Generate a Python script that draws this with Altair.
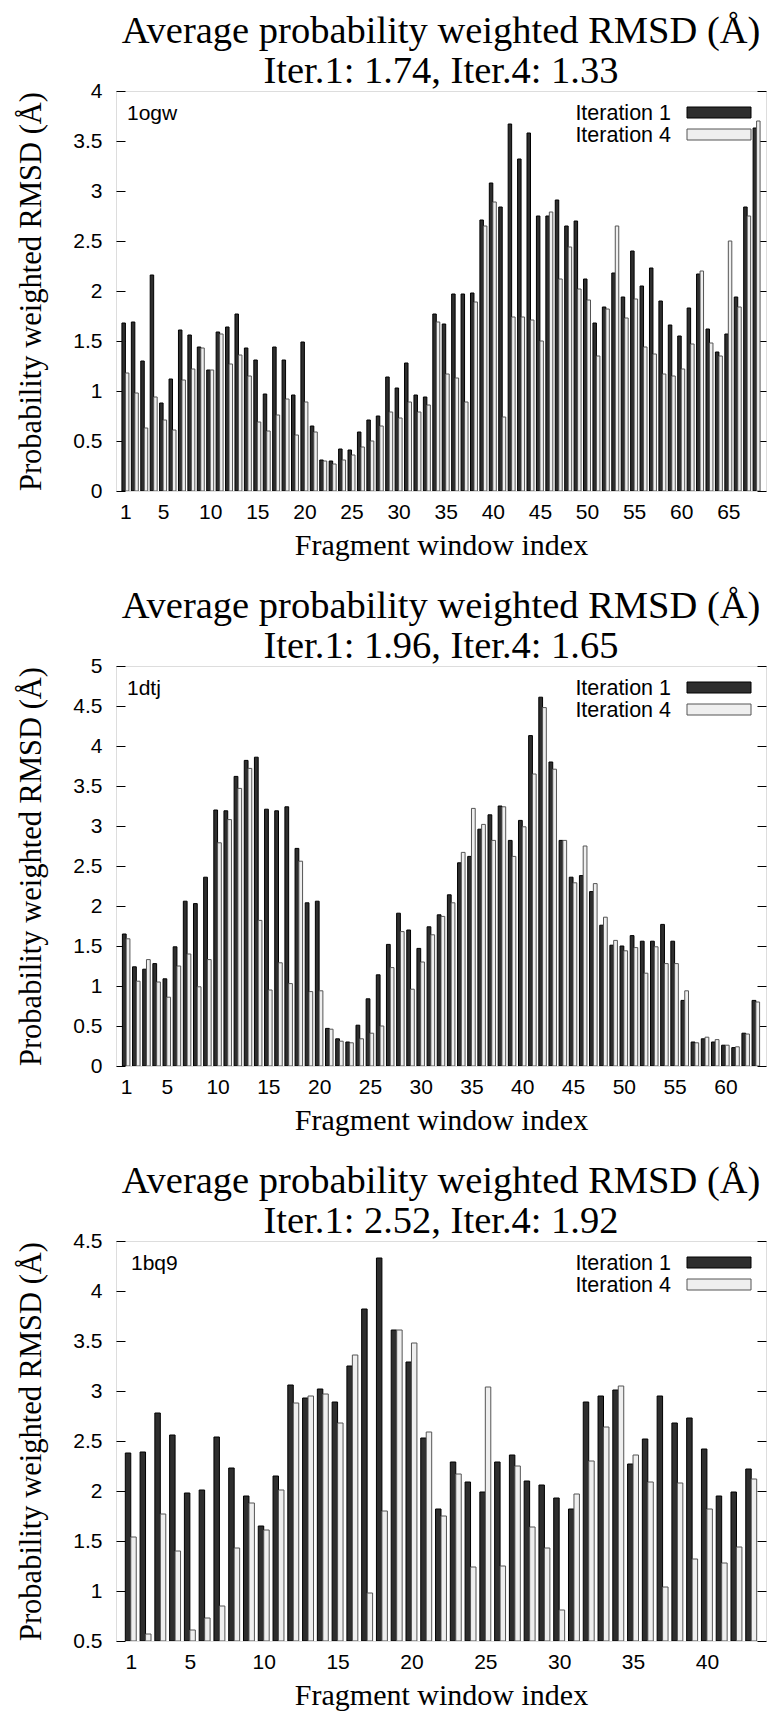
import altair as alt
import pandas as pd

SERIES = ["Iteration 1", "Iteration 4"]

# ---------------- panel 1: 1ogw ----------------
p1_iter1 = [1.68, 1.69, 1.30, 2.16, 0.88, 1.12, 1.61, 1.56, 1.44, 1.21,
            1.59, 1.64, 1.77, 1.43, 1.31, 0.97, 1.44, 1.31, 0.96, 1.49,
            0.65, 0.31, 0.30, 0.42, 0.41, 0.59, 0.71, 0.75, 1.14, 1.03,
            1.28, 0.96, 0.94, 1.77, 1.67, 1.97, 1.97, 1.98, 2.71, 3.08,
            2.84, 3.67, 3.32, 3.58, 2.75, 2.75, 2.91, 2.65, 2.70, 2.12,
            1.68, 1.84, 2.18, 1.94, 2.40, 2.05, 2.23, 1.90, 1.66, 1.55,
            1.83, 2.17, 1.62, 1.39, 1.57, 1.94, 2.84, 3.63]
p1_iter4 = [1.18, 0.98, 0.63, 0.94, 0.71, 0.61, 1.11, 1.22, 1.43, 1.21,
            1.57, 1.27, 1.36, 1.15, 0.69, 0.60, 0.76, 0.92, 0.56, 0.89,
            0.59, 0.30, 0.27, 0.31, 0.36, 0.44, 0.50, 0.65, 0.79, 0.73,
            0.89, 0.79, 0.86, 1.69, 1.17, 1.13, 0.89, 1.89, 2.65, 2.89,
            0.74, 1.74, 1.74, 1.71, 1.50, 2.79, 2.12, 2.44, 2.02, 1.91,
            1.35, 1.82, 2.65, 1.73, 1.92, 1.44, 1.37, 1.17, 1.15, 1.22,
            1.47, 2.20, 1.48, 1.35, 2.50, 1.84, 2.75, 3.70]
p1_xticks = [1, 5, 10, 15, 20, 25, 30, 35, 40, 45, 50, 55, 60, 65]
p1_yticks = [0, 0.5, 1, 1.5, 2, 2.5, 3, 3.5, 4]
p1_ydomain = [0, 4]

# ---------------- panel 2: 1dtj ----------------
p2_iter1 = [1.65, 1.24, 1.21, 1.28, 1.09, 1.49, 2.06, 2.03, 2.36, 3.20,
            3.19, 3.62, 3.82, 3.86, 3.21, 3.19, 3.24, 2.72, 2.04, 2.06,
            0.47, 0.34, 0.30, 0.51, 0.84, 1.14, 1.52, 1.91, 1.70, 1.47,
            1.74, 1.89, 2.14, 2.54, 2.62, 2.96, 3.14, 3.25, 2.82, 3.07,
            4.13, 4.61, 3.80, 2.82, 2.36, 2.38, 2.18, 1.76, 1.51, 1.50,
            1.63, 1.56, 1.56, 1.77, 1.56, 0.82, 0.30, 0.34, 0.30, 0.26,
            0.23, 0.41, 0.82]
p2_iter4 = [1.59, 1.06, 1.33, 1.05, 0.86, 1.25, 1.40, 0.99, 1.33, 2.79,
            3.08, 3.47, 3.72, 1.82, 0.95, 1.29, 1.03, 2.56, 0.93, 0.94,
            0.46, 0.31, 0.29, 0.34, 0.41, 0.50, 1.23, 1.68, 0.96, 1.30,
            1.64, 1.87, 2.04, 2.67, 3.22, 3.02, 2.82, 3.24, 2.62, 2.99,
            3.65, 4.48, 3.71, 2.82, 2.29, 2.75, 2.28, 1.86, 1.57, 1.44,
            1.48, 1.16, 1.49, 1.28, 1.28, 0.94, 0.29, 0.36, 0.33, 0.26,
            0.24, 0.40, 0.80]
p2_xticks = [1, 5, 10, 15, 20, 25, 30, 35, 40, 45, 50, 55, 60]
p2_yticks = [0, 0.5, 1, 1.5, 2, 2.5, 3, 3.5, 4, 4.5, 5]
p2_ydomain = [0, 5]

# ---------------- panel 3: 1bq9 ----------------
p3_iter1 = [2.38, 2.39, 2.78, 2.56, 1.98, 2.01, 2.54, 2.23, 1.95, 1.65,
            2.15, 3.06, 2.93, 3.02, 2.89, 3.25, 3.82, 4.33, 3.61, 3.29,
            2.53, 1.82, 2.29, 2.09, 1.99, 2.29, 2.36, 2.10, 2.06, 1.93,
            1.82, 2.89, 2.95, 3.01, 2.27, 2.52, 2.95, 2.68, 2.73, 2.42,
            1.95, 1.99, 2.22]
p3_iter4 = [1.54, 0.57, 1.77, 1.40, 0.61, 0.73, 0.85, 1.43, 1.88, 1.61,
            2.01, 2.88, 2.95, 2.97, 2.68, 3.36, 0.98, 1.80, 3.61, 3.48,
            2.59, 1.75, 2.17, 1.24, 3.04, 1.25, 2.25, 1.64, 1.43, 0.81,
            1.97, 2.30, 2.64, 3.05, 2.36, 2.09, 1.04, 2.08, 1.32, 1.82,
            1.28, 1.44, 2.12]
p3_xticks = [1, 5, 10, 15, 20, 25, 30, 35, 40]
p3_yticks = [0.5, 1, 1.5, 2, 2.5, 3, 3.5, 4, 4.5]
p3_ydomain = [0.5, 4.5]

codes = ["1ogw", "1dtj", "1bq9"]
means = [("1.74", "1.33"), ("1.96", "1.65"), ("2.52", "1.92")]

TITLE1 = "Average probability weighted RMSD (Å)"
YTITLE = "Probability weighted RMSD (Å)"
XTITLE = "Fragment window index"
SANS = "Liberation Sans"
SERIF = "Liberation Serif"
W, H = 650, 400
BW = 0.37

COLOR_SCALE = alt.Scale(domain=SERIES, range=["#2e2e2e", "#efefef"])
STROKE_SCALE = alt.Scale(domain=SERIES, range=["#000000", "#555555"])


def panel(code, code_x, mean, it1, it4, ydom, yticks, xticks):
    n = len(it1)
    df = pd.DataFrame({
        "idx": list(range(1, n + 1)) * 2,
        "value": it1 + it4,
        "series": [SERIES[0]] * n + [SERIES[1]] * n,
    })
    yscale = alt.Scale(domain=ydom, nice=False, zero=False)
    base = alt.Chart(df)
    bars = base.transform_calculate(
        x0=f"datum.series == '{SERIES[0]}' ? datum.idx - {BW} : datum.idx",
        x1=f"datum.series == '{SERIES[0]}' ? datum.idx : datum.idx + {BW}",
    ).mark_bar(clip=True, strokeWidth=1, opacity=1).encode(
        x=alt.X("x0:Q", scale=alt.Scale(domain=[0, n + 1], nice=False, zero=False),
                axis=alt.Axis(values=xticks, title=XTITLE, ticks=False, domain=False, grid=False,
                              labelFont=SANS, labelFontSize=21, labelColor="black", labelPadding=10,
                              labelOverlap=False, labelFlush=False,
                              titleFont=SERIF, titleFontSize=30, titleFontWeight="normal",
                              titleColor="black", titlePadding=8)),
        x2="x1:Q",
        y=alt.Y("value:Q", scale=yscale,
                axis=alt.Axis(values=yticks, format="~g", title=YTITLE, grid=False, domain=False,
                              labelFont=SANS, labelFontSize=21, labelColor="black", labelPadding=14,
                              labelOverlap=False, labelFlush=False,
                              tickSize=9, offset=-9, tickColor="black", tickWidth=1,
                              titleFont=SERIF, titleFontSize=30.5, titleFontWeight="normal",
                              titleColor="black", titlePadding=26)),
        y2=alt.datum(ydom[0]),
        color=alt.Color("series:N", scale=COLOR_SCALE, legend=None),
        stroke=alt.Stroke("series:N", scale=STROKE_SCALE, legend=None),
    )
    right = base.mark_point(opacity=0).encode(
        y=alt.Y("value:Q", scale=yscale,
                axis=alt.Axis(orient="right", values=yticks, labels=False, domain=False, grid=False,
                              tickSize=9, offset=-9, tickColor="black", tickWidth=1, title=None)),
    )
    lab = alt.Chart(pd.DataFrame({"t": [code]})).mark_text(
        align="left", baseline="alphabetic", font=SANS, fontSize=21, color="black"
    ).encode(x=alt.value(code_x), y=alt.value(28.5), text="t:N")

    # key in the top-right corner: label on the left, swatch on the right
    key_layers = []
    for i, s in enumerate(SERIES):
        kd = alt.Chart(pd.DataFrame({"series": [s]}))
        key_layers.append(kd.mark_rect(strokeWidth=1).encode(
            x=alt.value(W - 79), x2=alt.value(W - 15),
            y=alt.value(16 + 22 * i), y2=alt.value(27 + 22 * i),
            color=alt.Color("series:N", scale=COLOR_SCALE, legend=None),
            stroke=alt.Stroke("series:N", scale=STROKE_SCALE, legend=None)))
        key_layers.append(kd.mark_text(
            align="right", baseline="alphabetic", font=SANS, fontSize=21.5, color="black"
        ).encode(x=alt.value(W - 95), y=alt.value(29 + 22 * i), text="series:N"))

    title = alt.Title(text=TITLE1, subtitle=f"Iter.1: {mean[0]}, Iter.4: {mean[1]}",
                      font=SERIF, fontSize=38.5, fontWeight="normal", color="black",
                      subtitleFont=SERIF, subtitleFontSize=38.5, subtitleFontWeight="normal",
                      subtitleColor="black", subtitlePadding=1.5,
                      anchor="middle", offset=-11)
    return alt.layer(bars, right, lab, *key_layers).resolve_axis(y="independent").properties(
        width=W, height=H, title=title)


c1 = panel(codes[0], 11, means[0], p1_iter1, p1_iter4, p1_ydomain, p1_yticks, p1_xticks)
c2 = panel(codes[1], 11, means[1], p2_iter1, p2_iter4, p2_ydomain, p2_yticks, p2_xticks)
c3 = panel(codes[2], 15, means[2], p3_iter1, p3_iter4, p3_ydomain, p3_yticks, p3_xticks)

chart = alt.vconcat(c1, c2, c3, spacing=25).properties(
    padding={"left": 8, "top": 3, "right": 0, "bottom": 0}
).configure_view(stroke="black", strokeWidth=2).configure(background="white")

chart.save("out.html", embed_options={"renderer": "svg", "actions": False})
